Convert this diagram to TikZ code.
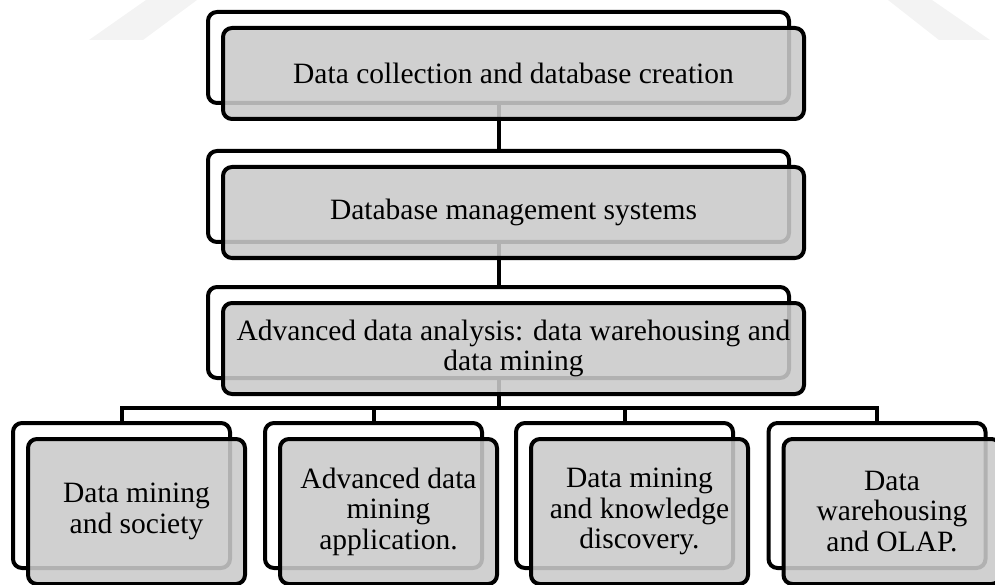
\documentclass[tikz,border=0pt]{standalone}
\usepackage{fontspec}
\setmainfont{Liberation Serif}
\definecolor{boxgray}{RGB}{202,202,202}
\definecolor{markgray}{RGB}{243,243,243}
\begin{document}
\begin{tikzpicture}[x=1pt,y=-1pt,
  backbox/.style={draw=black, line width=4pt, rounded corners=9pt, fill=white,
    inner sep=0pt},
  frontbox/.style={draw=black, line width=4pt, rounded corners=9pt, fill=boxgray,
    fill opacity=0.88, text opacity=1, inner sep=0pt, align=center,
    font=\fontsize{29.5}{30.5}\selectfont},
  wide/.style={minimum width=581pt, minimum height=91pt},
  narrow/.style={minimum width=217pt, minimum height=145pt},
  link/.style={draw=black, line width=4pt}
]
\useasboundingbox (0,0) rectangle (995,585);

% faint background rays along the top edge
\fill[markgray] (89,40) -- (143,40) -- (197,0) -- (146,0) -- cycle;
\fill[markgray] (939,40) -- (990,40) -- (932,0) -- (888,0) -- cycle;

% back (outline) boxes
\node[backbox, wide] (b1) at (498.5,57.5) {};
\node[backbox, wide] (b2) at (498.5,196.5) {};
\node[backbox, wide] (b3) at (498.5,332.5) {};
\node[backbox, narrow] (c1) at (121.5,495.5) {};
\node[backbox, narrow] (c2) at (373.5,495.5) {};
\node[backbox, narrow] (c3) at (624.5,495.5) {};
\node[backbox, narrow] (c4) at (877,495.5) {};

% connectors
\coordinate (bus) at (498.5,408);
\draw[link] (b1.south) -- (b2.north);
\draw[link] (b2.south) -- (b3.north);
\draw[link] (b3.south) -- (bus);
\draw[link] (c1.north) -- (c1.north |- bus) -- (c4.north |- bus) -- (c4.north);
\draw[link] (c2.north) -- (c2.north |- bus);
\draw[link] (c3.north) -- (c3.north |- bus);

% front (filled) boxes with the labels
\node[frontbox, wide] (f1) at ([shift={(15,16)}]b1.center) {Data collection and database creation};
\node[frontbox, wide] (f2) at ([shift={(15,16)}]b2.center) {Database management systems};
\node[frontbox, wide] (f3) at ([shift={(15,16)}]b3.center) {Advanced data analysis: data warehousing and\\data mining};
\node[frontbox, narrow] (g1) at ([shift={(15,16)}]c1.center) {Data mining\\and society};
\node[frontbox, narrow] (g2) at ([shift={(15,16)}]c2.center) {Advanced data\\mining\\application.};
\node[frontbox, narrow] (g3) at ([shift={(15,16)}]c3.center) {Data mining\\and knowledge\\discovery.};
\node[frontbox, narrow] (g4) at ([shift={(15,16)}]c4.center) {Data\\warehousing\\and OLAP.};
\end{tikzpicture}
\end{document}
